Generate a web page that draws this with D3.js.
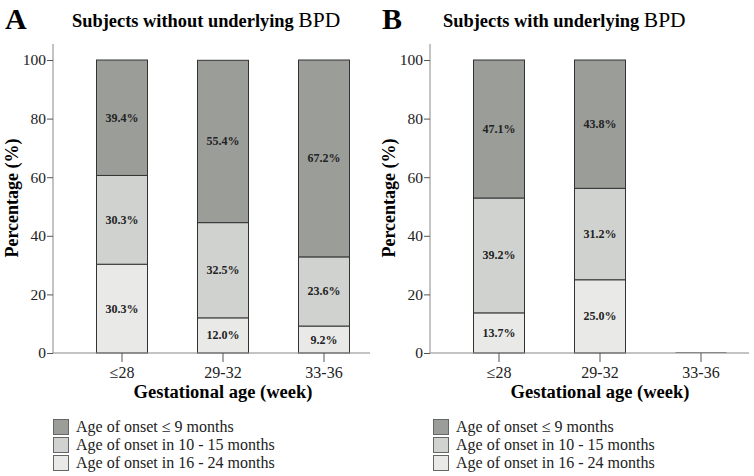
<!DOCTYPE html>
<html>
<head>
<meta charset="utf-8">
<script src="https://cdn.jsdelivr.net/npm/d3@7"></script>
<style>
  body { margin: 0; background: #fff; }
  svg text { font-family: 'Liberation Serif', 'Times New Roman', Times, 'DejaVu Serif', serif; }
</style>
</head>
<body>
<svg id="chart" width="754" height="476"></svg>
<script>
const categories = ['≤28', '29-32', '33-36'];
const seriesNames = ['Age of onset ≤ 9 months', 'Age of onset in 10 - 15 months', 'Age of onset in 16 - 24 months'];
const colors = ['#9b9d99', '#d0d2cf', '#e9e9e7'];

// bottom to top: 16-24, 10-15, <=9
const noBpdLate = [30.3, 12.0, 9.2];
const noBpdMid = [30.3, 32.5, 23.6];
const noBpdEarly = [39.4, 55.4, 67.2];

const bpdLate = [13.7, 25.0, 0];
const bpdMid = [39.2, 31.2, 0];
const bpdEarly = [47.1, 43.8, 0];

const yTicks = [0, 20, 40, 60, 80, 100];

const panels = [
  { letter: 'A', title: 'Subjects without underlying', dx: 0, stacks: [noBpdLate, noBpdMid, noBpdEarly] },
  { letter: 'B', title: 'Subjects with underlying', dx: 377, stacks: [bpdLate, bpdMid, bpdEarly] },
];

const svg = d3.select('#chart');

const y = d3.scaleLinear().domain([0, 100]).range([353, 60]);
const x = d3.scaleBand().domain(categories).range([71.5, 374.5])
  .paddingInner(0.495).paddingOuter(0.2475);

// fill order bottom->top uses colours light, mid, dark
const stackColors = [colors[2], colors[1], colors[0]];

panels.forEach(p => {
  const g = svg.append('g').attr('transform', `translate(${p.dx},0)`);

  g.append('text').attr('x', 5).attr('y', 29)
    .style('font-size', '30px').style('font-weight', 'bold').text(p.letter);

  const t = g.append('text').attr('x', p.dx === 0 ? 72 : 66).attr('y', 27)
    .style('font-size', '18.4px').style('font-weight', 'bold');
  t.append('tspan').text(p.title + ' ');
  t.append('tspan').style('font-weight', 'normal').style('font-size', '21.5px').text('BPD');

  // y axis
  const yAxis = g.append('g').attr('transform', 'translate(53,0)')
    .call(d3.axisLeft(y).tickValues(yTicks).tickSize(6).tickPadding(1));
  yAxis.attr('font-family', null);
  yAxis.select('.domain').attr('d', `M0,${y(100) - 16}V${y(0)}`).attr('stroke', '#888');
  yAxis.selectAll('.tick line').attr('stroke', '#555');
  yAxis.selectAll('.tick text').style('font-size', '15.5px').attr('fill', '#222');

  g.append('text')
    .attr('transform', `translate(18,198) rotate(-90)`)
    .attr('text-anchor', 'middle')
    .style('font-size', '18px').style('font-weight', 'bold').text('Percentage (%)');

  // bars
  categories.forEach((c, i) => {
    let base = 0;
    const total = d3.sum(p.stacks, s => s[i]);
    if (total === 0) {
      g.append('line')
        .attr('x1', x(c)).attr('x2', x(c) + x.bandwidth())
        .attr('y1', y(0) - 0.5).attr('y2', y(0) - 0.5)
        .attr('stroke', '#888').attr('stroke-width', 1);
      return;
    }
    p.stacks.forEach((s, k) => {
      const v = s[i];
      const y0 = y(base), y1 = y(base + v);
      g.append('rect')
        .attr('x', x(c)).attr('y', y1)
        .attr('width', x.bandwidth()).attr('height', y0 - y1)
        .attr('fill', stackColors[k]).attr('stroke', '#333').attr('stroke-width', 1);
      g.append('text')
        .attr('x', x(c) + x.bandwidth() / 2).attr('y', (y0 + y1) / 2 + 4)
        .attr('text-anchor', 'middle')
        .style('font-size', '12px').style('font-weight', 'bold').attr('fill', '#222')
        .text(v.toFixed(1) + '%');
      base += v;
    });
  });

  // x axis
  const xAxis = g.append('g').attr('transform', `translate(0,${y(0)})`)
    .call(d3.axisBottom(x).tickSize(9).tickPadding(5));
  xAxis.attr('font-family', null);
  xAxis.select('.domain').attr('d', `M53,0H${p.dx === 0 ? 370 : 372}`).attr('stroke', '#888');
  xAxis.selectAll('.tick line').attr('stroke', '#555');
  xAxis.selectAll('.tick text').style('font-size', '16px').attr('fill', '#222');

  g.append('text').attr('x', 223).attr('y', 398).attr('text-anchor', 'middle')
    .style('font-size', '18.5px').style('font-weight', 'bold').text('Gestational age (week)');

  // legend
  const lx = p.dx === 0 ? 53 : 56;
  const leg = g.append('g').selectAll('g').data(seriesNames).join('g')
    .attr('transform', (d, k) => `translate(${lx},${419 + k * 18})`);
  leg.append('rect').attr('x', 0.5).attr('y', 0.5).attr('width', 15).attr('height', 15)
    .attr('fill', (d, k) => colors[k]).attr('stroke', '#666');
  leg.append('text').attr('x', 23).attr('y', 13)
    .style('font-size', '16px').attr('fill', '#222').text(d => d);
});
</script>
</body>
</html>
